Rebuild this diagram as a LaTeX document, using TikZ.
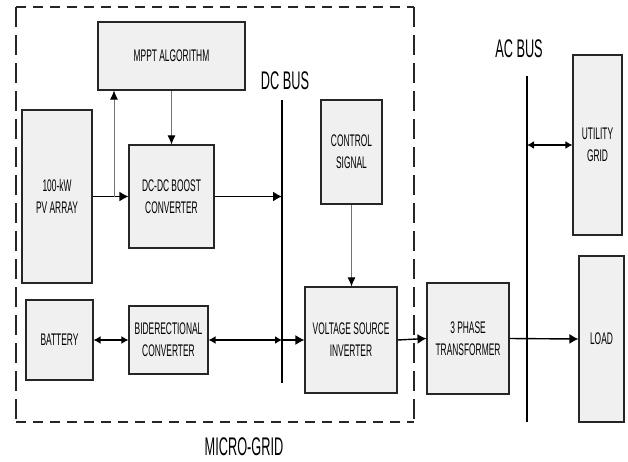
\documentclass[tikz,border=0pt]{standalone}
\usepackage{fontspec}
\setmainfont[FakeStretch=0.5]{Liberation Sans}
\usetikzlibrary{arrows.meta}
\begin{document}
\begin{tikzpicture}[x=1pt,y=-1pt,
 box/.style={draw=black!85, fill=black!6, line width=1.1pt, inner sep=0pt, align=center, font=\fontsize{16.8}{22}\selectfont},
 bus/.style={draw=black, line width=1.3pt},
 lbl/.style={font=\fontsize{25.5}{28}\selectfont, inner sep=0pt},
 pow/.style={line width=1.4pt, -{Latex[length=9pt,width=10pt]}},
 bi/.style={line width=1.4pt, {Latex[length=7pt,width=8pt]}-{Latex[length=7pt,width=8pt]}},
 sig/.style={draw=black!55, line width=0.9pt, -{Latex[length=9pt,width=8pt,color=black]}},
 mgh/.style={draw=black!85, line width=1.1pt, dash pattern=on 10pt off 7pt},
 mgv/.style={draw=black!85, line width=1.1pt, dash pattern=on 20pt off 8pt}
]
\useasboundingbox (0,0) rectangle (628,461);
% micro-grid frame
\coordinate (mgNW) at (16,7);
\coordinate (mgSE) at (414,422);
\draw[mgh] (mgNW) -- (mgNW -| mgSE);
\draw[mgh] (mgNW |- mgSE) -- (mgSE);
\draw[mgv] (mgNW) -- (mgNW |- mgSE);
\draw[mgv] (mgNW -| mgSE) -- (mgSE);
% buses
\coordinate (dctop) at (282,100);
\coordinate (dcbot) at (282,383);
\coordinate (actop) at (527,76);
\coordinate (acbot) at (527,422);
\draw[bus] (dctop) -- (dcbot);
\draw[bus] (actop) -- (acbot);
% labels
\node[lbl] (dclbl) at (285,81) {DC BUS};
\node[lbl] (aclbl) at (519,49) {AC BUS};
\node[lbl] (mglbl) at (244,447) {MICRO-GRID};
% boxes
\node[box, minimum width=147pt, minimum height=68pt] (mppt) at (171.5,56) {MPPT ALGORITHM};
\node[box, minimum width=70pt, minimum height=173pt] (pv) at (57,196.5) {100-kW\\PV ARRAY};
\node[box, minimum width=85pt, minimum height=103pt] (dcdc) at (171.5,196.5) {DC-DC BOOST\\CONVERTER};
\node[box, minimum width=67pt, minimum height=80pt] (bat) at (59.5,340) {BATTERY};
\node[box, minimum width=79pt, minimum height=68pt] (bidir) at (168.5,340) {BIDERECTIONAL\\CONVERTER};
\node[box, minimum width=61pt, minimum height=104pt] (ctrl) at (351.5,152) {CONTROL\\SIGNAL};
\node[box, minimum width=92pt, minimum height=106pt] (vsi) at (351,340) {VOLTAGE SOURCE\\INVERTER};
\node[box, minimum width=82pt, minimum height=111pt] (trans) at (468,338.5) {3 PHASE\\TRANSFORMER};
\node[box, minimum width=49pt, minimum height=180pt] (util) at (597.5,145) {UTILITY\\GRID};
\node[box, minimum width=45pt, minimum height=166pt] (load) at (601.5,339) {LOAD};
% connectors
\coordinate (tap) at (114,196.5);
\draw[pow] (pv.east) -- (dcdc.west);
\draw[sig] (tap) -- (tap |- mppt.south);
\draw[sig] (mppt.south) -- (dcdc.north);
\draw[pow] (dcdc.east) -- (dcdc.east -| dctop);
\draw[bi] (bat.east) -- (bidir.west);
\draw[bi] (bidir.east) -- (bidir.east -| dctop);
\draw[pow] (vsi.west -| dctop) -- (vsi.west);
\draw[sig] (ctrl.south) -- (ctrl.south |- vsi.north);
\draw[pow] (vsi.east) -- (trans.west);
\draw[pow] (trans.east) -- (load.west);
\draw[bi] (util.west -| actop) -- (util.west);
\end{tikzpicture}
\end{document}
